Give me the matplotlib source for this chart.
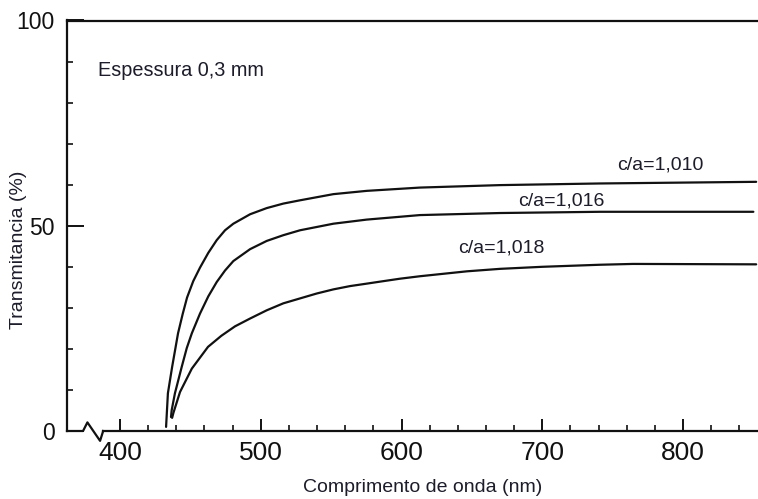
import matplotlib
matplotlib.use("Agg")
import matplotlib.pyplot as plt
import numpy as np
from matplotlib.ticker import FixedLocator

plt.rcParams['font.family'] = ['Liberation Sans', 'DejaVu Sans']

# ---- data ----
wl_1010 = [432.7, 434.0, 437.0, 441.2, 444.5, 447.6, 452.0, 456.8, 462.7, 468.7,
           474.6, 480.5, 492.4, 504.2, 516.0, 527.9, 551.6, 575.3, 613.1, 670.0,
           741.0, 852.0]
t_1010 = [1.0, 9.2, 15.6, 23.8, 28.5, 32.5, 36.5, 39.8, 43.4, 46.5,
          48.9, 50.5, 52.8, 54.3, 55.4, 56.2, 57.7, 58.5, 59.3, 59.9,
          60.3, 60.7]

wl_1016 = [436.2, 436.7, 439.0, 443.8, 447.4, 451.0, 456.8, 462.7, 468.7, 474.6,
           480.5, 492.4, 504.2, 516.0, 527.9, 551.6, 575.3, 613.1, 670.0, 741.0,
           850.0]
t_1016 = [3.4, 5.1, 9.2, 15.6, 20.2, 23.8, 28.6, 32.8, 36.3, 39.1,
          41.4, 44.3, 46.3, 47.7, 48.9, 50.5, 51.5, 52.6, 53.1, 53.4,
          53.4]

wl_1018 = [437.0, 437.9, 442.6, 451.0, 462.5, 472.0, 481.7, 492.4, 504.2, 516.0,
           527.9, 539.8, 551.6, 563.4, 575.3, 587.0, 598.9, 613.1, 646.5, 670.0,
           700.0, 741.0, 764.5, 852.0]
t_1018 = [3.2, 4.4, 9.5, 15.2, 20.5, 23.2, 25.5, 27.4, 29.4, 31.1,
          32.3, 33.5, 34.5, 35.3, 35.9, 36.5, 37.1, 37.7, 38.9, 39.5,
          40.0, 40.5, 40.7, 40.6]

series_labels = ["c/a=1,010", "c/a=1,016", "c/a=1,018"]
label_pos = [(752.9, 64.7), (682.8, 56.0), (640.4, 44.7)]

x_major = [400, 500, 600, 700, 800]
y_major = [0, 50, 100]
y_major_labels = ["0", "50", "100"]

xlabel = "Comprimento de onda (nm)"
ylabel = "Transmitancia (%)"
note = "Espessura 0,3 mm"

# ---- figure ----
W, H = 758, 499
fig = plt.figure(figsize=(W / 100, H / 100), dpi=100)
ax = fig.add_axes([67 / W, 68 / H, 691 / W, 410.5 / H])
ax.set_xlim(362.3, 853.3)
ax.set_ylim(0, 100)

lc = "#111111"
tc = "#1c1c2a"
for wl, t in [(wl_1010, t_1010), (wl_1016, t_1016), (wl_1018, t_1018)]:
    ax.plot(wl, t, color=lc, lw=1.6, solid_capstyle="round", solid_joinstyle="round")

for lab, (x, y) in zip(series_labels, label_pos):
    ax.text(x, y, lab, fontsize=14, color=tc, ha="left", va="center")

ax.text(384.4, 87.8, note, fontsize=14.3, color=tc, ha="left", va="center")

# spines
for s in ["left", "top", "bottom"]:
    ax.spines[s].set_linewidth(1.6)
    ax.spines[s].set_color(lc)
ax.spines["right"].set_visible(False)

# axis break on the x axis
xb0, xb1 = 373.7, 388.0
ax.spines["bottom"].set_bounds(xb1, 853.3)
ax.plot([362.3, xb0, 376.8, 385.8, xb1], [0, 0, 2.1, -2.4, 0],
        color=lc, lw=1.6, clip_on=False)

# ticks
ax.xaxis.set_major_locator(FixedLocator(x_major))
ax.xaxis.set_minor_locator(FixedLocator(list(np.arange(400, 860, 20))))
ax.yaxis.set_major_locator(FixedLocator(y_major))
ax.set_yticklabels(y_major_labels)
ax.yaxis.set_minor_locator(FixedLocator(list(np.arange(10, 100, 10))))

ax.tick_params(axis="x", which="major", direction="in", length=9, width=1.4,
               labelsize=19, pad=7, colors=lc)
ax.tick_params(axis="x", which="minor", direction="in", length=4, width=1.2, colors=lc)
ax.tick_params(axis="y", which="major", direction="in", length=12, width=1.4,
               labelsize=16.5, pad=9, colors=lc)
ax.tick_params(axis="y", which="minor", direction="in", length=4, width=1.2, colors=lc)
ax.tick_params(top=False, right=False, which="both")

fig.text(422.5 / W, 1 - 488 / H, xlabel, fontsize=14, color=tc, ha="center", va="center")
fig.text(18.5 / W, 1 - 250 / H, ylabel, fontsize=14, color=tc, ha="center",
         va="center", rotation=90)

fig.savefig("out.png", dpi=100)
